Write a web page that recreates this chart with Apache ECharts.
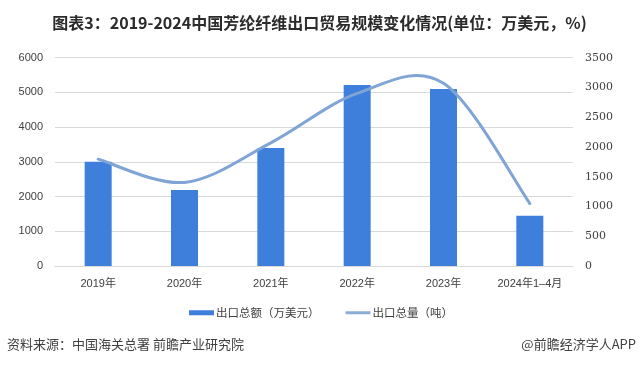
<!DOCTYPE html>
<html>
<head>
<meta charset="utf-8">
<script src="https://cdn.jsdelivr.net/npm/echarts@6/dist/echarts.min.js"></script>
<style>
html,body{margin:0;padding:0;background:#fff;}
#c{width:639px;height:365px;}
</style>
</head>
<body>
<div id="c"></div>
<script>
var categories = ['2019年', '2020年', '2021年', '2022年', '2023年', '2024年1-4月'];
var exportValue = [3000, 2190, 3400, 5215, 5100, 1445];   // 出口总额（万美元）
var exportVolume = [1795, 1405, 2070, 2900, 3070, 1050];  // 出口总量（吨）
var leftTicks = {min: 0, max: 6000, interval: 1000};
var rightTicks = {min: 0, max: 3500, interval: 500};

var chart = echarts.init(document.getElementById('c'), null, {renderer: 'canvas'});
var cjk = '"Liberation Sans", "Noto Sans CJK SC", sans-serif';
var plain = function (v) { return String(v); };

// Excel-style smoothed line (Catmull-Rom style Bezier) drawn through the axis scales
function renderSmooth(params, api) {
  if (params.dataIndex !== 0) return;
  var n = exportVolume.length;
  var pts = [];
  for (var i = 0; i < n; i++) pts.push(api.coord([i, exportVolume[i]]));
  var d = 'M' + pts[0][0] + ' ' + pts[0][1];
  for (var k = 0; k < n - 1; k++) {
    var p0 = pts[Math.max(k - 1, 0)], p1 = pts[k], p2 = pts[k + 1], p3 = pts[Math.min(k + 2, n - 1)];
    var c1x = p1[0] + (p2[0] - p0[0]) / 6, c1y = p1[1] + (p2[1] - p0[1]) / 6;
    var c2x = p2[0] - (p3[0] - p1[0]) / 6, c2y = p2[1] - (p3[1] - p1[1]) / 6;
    d += ' C' + c1x + ' ' + c1y + ' ' + c2x + ' ' + c2y + ' ' + p2[0] + ' ' + p2[1];
  }
  return {
    type: 'path',
    shape: {pathData: d},
    style: {fill: null, stroke: '#7FA4D5', lineWidth: 3, lineCap: 'round', lineJoin: 'round'}
  };
}

chart.setOption({
  animation: false,
  backgroundColor: '#ffffff',
  title: {
    text: '图表3：2019-2024中国芳纶纤维出口贸易规模变化情况(单位：万美元，%)',
    left: 'center',
    top: 10,
    textStyle: {fontSize: 16, fontWeight: 'bold', color: '#2b2b2b', fontFamily: '"Noto Sans CJK SC", sans-serif'}
  },
  grid: {left: 55, right: 66, top: 57.7, bottom: 99, containLabel: false},
  legend: {
    left: 184,
    top: 302,
    itemWidth: 25,
    itemHeight: 5,
    itemGap: 26,
    textStyle: {fontSize: 11.5, color: '#404040', fontFamily: '"Noto Sans CJK SC", sans-serif', padding: [0, 0, 0, -3]},
    data: [
      {name: '出口总额（万美元）', icon: 'rect', itemStyle: {color: '#3D7FDB'}},
      {name: '出口总量（吨）', icon: 'path://M0,0 L25,0 L25,3 L0,3 Z', itemStyle: {color: '#8CADD8'}}
    ]
  },
  xAxis: {
    type: 'category',
    data: categories,
    axisLine: {show: true, lineStyle: {color: '#d9d9d9'}},
    axisTick: {show: false},
    axisLabel: {fontSize: 11, color: '#404040', fontFamily: cjk, margin: 12, interval: 0, formatter: function(v){return v.replace('-', '–');}}
  },
  yAxis: [
    {
      type: 'value',
      min: leftTicks.min, max: leftTicks.max, interval: leftTicks.interval,
      axisLine: {show: false},
      axisTick: {show: false},
      splitLine: {lineStyle: {color: '#d9d9d9', width: 1}},
      axisLabel: {fontSize: 11, color: '#404040', fontFamily: cjk, margin: 12, formatter: plain}
    },
    {
      type: 'value',
      min: rightTicks.min, max: rightTicks.max, interval: rightTicks.interval,
      axisLine: {show: false},
      axisTick: {show: false},
      splitLine: {show: false},
      axisLabel: {fontSize: 11, color: '#404040', fontFamily: '"DejaVu Serif", serif', margin: 12, formatter: plain}
    }
  ],
  series: [
    {
      name: '出口总额（万美元）',
      type: 'bar',
      yAxisIndex: 0,
      data: exportValue,
      barWidth: 27,
      itemStyle: {color: '#3D7FDB'}
    },
    {
      name: '出口总量（吨）',
      type: 'custom',
      yAxisIndex: 1,
      data: exportVolume.map(function (v, i) { return [i, v]; }),
      encode: {x: 0, y: 1},
      renderItem: renderSmooth,
      itemStyle: {color: '#8CADD8'},
      z: 3
    }
  ],
  graphic: [
    {type: 'text', left: 7, top: 338, style: {text: '资料来源：中国海关总署 前瞻产业研究院', fontSize: 13, fill: '#404040', fontFamily: '"Noto Sans CJK SC", sans-serif'}},
    {type: 'text', right: 3, top: 338, style: {text: '@前瞻经济学人APP', fontSize: 13, fill: '#404040', fontFamily: '"Noto Sans CJK SC", sans-serif'}}
  ]
});
</script>
</body>
</html>
